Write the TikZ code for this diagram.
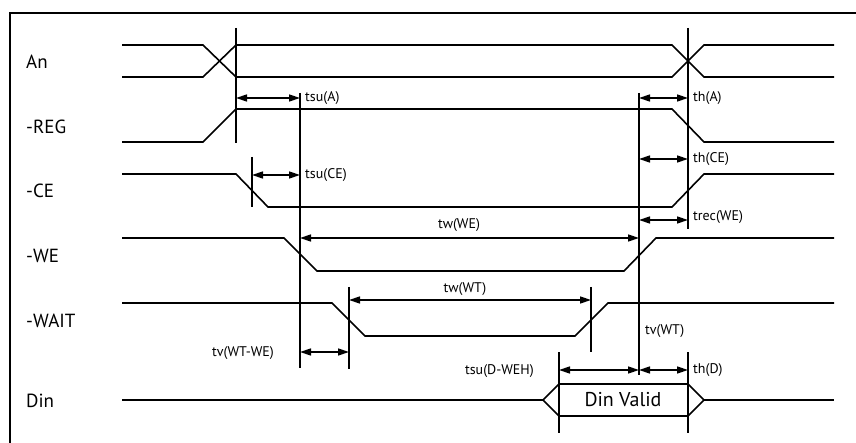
\documentclass[tikz,border=0pt]{standalone}
\usepackage{fontspec}
\setmainfont{PT Sans}
\usetikzlibrary{arrows.meta}
\tikzset{
  sig/.style={line width=1.6pt, line join=miter},
  tmark/.style={line width=1.5pt},
  dim/.style={line width=1.5pt, {Triangle[length=11pt,width=7pt]}-{Triangle[length=11pt,width=7pt]}},
  signame/.style={anchor=base west, inner sep=0pt, font=\fontsize{19}{22}\selectfont},
  tlabel/.style={inner sep=0pt, font=\fontsize{14}{16}\selectfont}
}

\begin{document}
\begin{tikzpicture}[x=1pt, y=-1pt]
		%%%%% START %%%%%
		\useasboundingbox (0,0) rectangle (856,443);
		\draw[line width=1.5pt] (10,443) -- (10,13) -- (856,13);
		
		% signal names
		\node[signame] (nAn) at (26,69) {An};
		\node[signame] (nREG) at (26,134) {-REG};
		\node[signame] (nCE) at (26,198) {-CE};
		\node[signame] (nWE) at (26,263) {-WE};
		\node[signame] (nWAIT) at (26,327) {-WAIT};
		\node[signame] (nDin) at (26,407) {Din};
		
		% An
		\draw[sig] (122,45) -- (203,45) -- (236,77) -- (672,77) -- (704,45) -- (834,45);
		\draw[sig] (122,77) -- (203,77) -- (236,45) -- (672,45) -- (704,77) -- (834,77);
		
		% -REG
		\draw[sig] (122,142) -- (203,142) -- (236,109) -- (672,109) -- (704,142) -- (834,142);
		
		% -CE
		\draw[sig] (122,174) -- (236,174) -- (268,207) -- (672,207) -- (704,174) -- (834,174);
		
		% -WE
		\draw[sig] (122,238) -- (284,238) -- (317,271) -- (624,271) -- (656,238) -- (834,238);
		
		% -WAIT
		\draw[sig] (122,303) -- (332,303) -- (365,336) -- (575,336) -- (608,303) -- (834,303);
		
		% Din
		\draw[sig] (122,400) -- (543,400);
		\draw[sig] (543,400) -- (559,384) -- (688,384) -- (704,400) -- (688,416) -- (559,416) -- cycle;
		\draw[sig] (704,400) -- (834,400);
		\node[font=\fontsize{20}{22}\selectfont] (valid) at (623,400) {Din Valid};
		
		% timing marks
		\draw[tmark] (236,28) coordinate (a1) -- (236,143);
		\draw[tmark] (688,28) coordinate (a2) -- (688,229);
		\draw[tmark] (300,93) -- (300,368);
		\draw[tmark] (639,93) -- (639,375);
		\draw[tmark] (252,157) -- (252,207);
		\draw[tmark] (349,287) -- (349,369);
		\draw[tmark] (591,287) -- (591,352);
		\draw[tmark] (559,352) -- (559,433);
		\draw[tmark] (688,352) -- (688,433);
		
		% arrows
		\draw[dim] (236,98) -- (300,98);
		\node[tlabel, anchor=west] (tsuA) at (305,98) {tsu(A)};
		\draw[dim] (639,98) -- (688,98);
		\node[tlabel, anchor=west] (thA) at (693,98) {th(A)};
		\draw[dim] (252,175) -- (300,175);
		\node[tlabel, anchor=west] (tsuCE) at (305,175) {tsu(CE)};
		\draw[dim] (639,159) -- (688,159);
		\node[tlabel, anchor=west] (thCE) at (693,159) {th(CE)};
		\draw[dim] (639,220) -- (688,220);
		\node[tlabel, anchor=west] (trecWE) at (693,217) {trec(WE)};
		\draw[dim] (300,238) -- (639,238);
		\node[tlabel] (twWE) at (459,225) {tw(WE)};
		\draw[dim] (349,300) -- (591,300);
		\node[tlabel] (twWT) at (465,289) {tw(WT)};
		\draw[dim] (300,352) -- (349,352);
		\node[tlabel, anchor=east] (tvWTWE) at (274,353) {tv(WT-WE)};
		\node[tlabel, anchor=west] (tvWT) at (645,331) {tv(WT)};
		\draw[dim] (559,370) -- (639,370);
		\node[tlabel, anchor=east] (tsuD) at (534,371) {tsu(D-WEH)};
		\draw[dim] (639,370) -- (688,370);
		\node[tlabel, anchor=west] (thD) at (693,370) {th(D)};
		%%%%% END %%%%%
\end{tikzpicture}
\end{document}
